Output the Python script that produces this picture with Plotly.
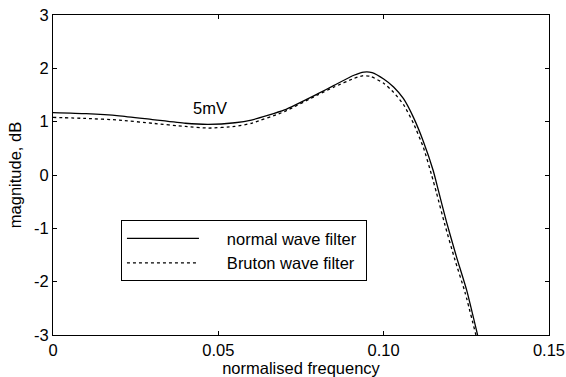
import plotly.graph_objects as go

# normalised frequency sample points
freq_normal = [0, 0.01, 0.02, 0.03, 0.04, 0.047, 0.055, 0.06, 0.07, 0.08, 0.085,
               0.091, 0.094, 0.0965, 0.1, 0.103, 0.106, 0.109, 0.112, 0.115,
               0.1165, 0.119, 0.122, 0.1251, 0.1284]
mag_normal = [1.17, 1.15, 1.11, 1.04, 0.97, 0.95, 0.98, 1.03, 1.22, 1.52, 1.68,
              1.87, 1.93, 1.92, 1.80, 1.65, 1.43, 1.08, 0.63, 0.08,
              -0.28, -0.88, -1.53, -2.16, -3.0]

freq_bruton = [0, 0.01, 0.02, 0.03, 0.04, 0.047, 0.055, 0.06, 0.07, 0.08, 0.085,
               0.091, 0.0935, 0.096, 0.1, 0.103, 0.106, 0.109, 0.112, 0.1145,
               0.116, 0.1185, 0.1215, 0.1246, 0.1279]
mag_bruton = [1.08, 1.06, 1.03, 0.97, 0.91, 0.88, 0.91, 0.97, 1.19, 1.50, 1.65,
              1.81, 1.86, 1.85, 1.72, 1.55, 1.32, 0.97, 0.52, 0.0,
              -0.34, -0.93, -1.58, -2.2, -3.0]

x_ticks = [0, 0.05, 0.10, 0.15]
x_tick_labels = ["0", "0.05", "0.10", "0.15"]
y_ticks = [-3, -2, -1, 0, 1, 2, 3]
y_tick_labels = ["-3", "-2", "-1", "0", "1", "2", "3"]

series_names = ["normal wave filter", "Bruton wave filter"]
annotation_text = "5mV"
annotation_pos = (0.0475, 1.26)

FONT = "Liberation Sans, Arial, Helvetica, sans-serif"
FS = 16.5
pad = "\u00a0" * 5

fig = go.Figure()
fig.add_trace(go.Scatter(x=freq_normal, y=mag_normal, mode="lines",
                         name=pad + series_names[0] + "\u00a0",
                         line=dict(color="black", width=1.3, shape="spline", smoothing=0.5)))
fig.add_trace(go.Scatter(x=freq_bruton, y=mag_bruton, mode="lines",
                         name=pad + series_names[1] + "\u00a0",
                         line=dict(color="black", width=1.3, dash="dot", shape="spline", smoothing=0.5)))

fig.add_annotation(x=annotation_pos[0], y=annotation_pos[1], text=annotation_text,
                   showarrow=False, font=dict(size=FS, color="black", family=FONT))

axis_common = dict(showline=True, linecolor="black", linewidth=1, mirror="ticks",
                   ticks="inside", ticklen=4, tickcolor="black", showgrid=False,
                   zeroline=False, automargin=False,
                   tickfont=dict(size=FS, color="black", family=FONT))

fig.update_xaxes(range=[0, 0.15], tickvals=x_ticks, ticktext=x_tick_labels,
                 title=dict(text="normalised frequency", standoff=4,
                            font=dict(size=FS, color="black", family=FONT)),
                 **axis_common)
fig.update_yaxes(range=[-3, 3], tickvals=y_ticks, ticktext=y_tick_labels,
                 title=dict(text="magnitude, dB", standoff=8,
                            font=dict(size=FS, color="black", family=FONT)),
                 **axis_common)

fig.update_layout(
    width=566, height=377,
    margin=dict(l=53, r=17, t=15, b=42),
    paper_bgcolor="white", plot_bgcolor="white",
    font=dict(family=FONT, color="black", size=FS),
    legend=dict(x=0.137, y=0.359, xanchor="left", yanchor="top",
                bordercolor="black", borderwidth=1, bgcolor="white",
                itemwidth=72, tracegroupgap=0,
                font=dict(size=FS, color="black", family=FONT)),
    showlegend=True,
)

fig.write_html("out.html")
